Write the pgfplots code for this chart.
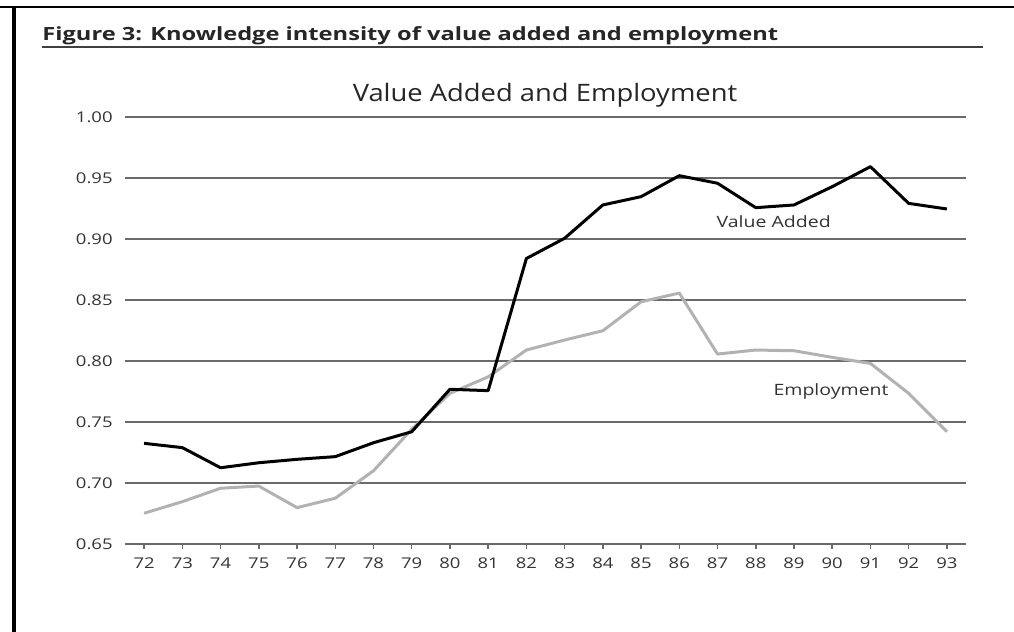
\documentclass[border=0pt]{standalone}
\usepackage{fontspec}
\setmainfont{Open Sans}[FakeStretch=1.25]
\newfontfamily\figtitlefont{Open Sans}[FakeStretch=1.30]
\newfontfamily\charttitlefont{Open Sans}[FakeStretch=1.14]
\usepackage{pgfplots}
\pgfplotsset{compat=1.18}
\definecolor{grid}{HTML}{6A6A6A}
\definecolor{emp}{HTML}{B2B2B2}
\begin{document}
\begin{tikzpicture}
\path[use as bounding box] (0,0) rectangle (507pt,316pt);
% frame
\draw[line width=1pt, black] (0,312.5pt) -- (507pt,312.5pt);
\draw[line width=2pt, black] (6.75pt,312.5pt) -- (6.75pt,0);
% figure title
\node[anchor=base west, inner sep=0, font=\figtitlefont\fontsize{9.1pt}{10pt}\selectfont\bfseries, text=black!85] at (21pt,295.75pt) {Figure 3: Knowledge intensity of value added and employment};
\draw[line width=1pt, black!75] (21pt,292.25pt) -- (491.5pt,292.25pt);
% chart title
\node[anchor=base, inner sep=0, font=\charttitlefont\fontsize{12pt}{13pt}\selectfont, text=black!85] at (272.5pt,265.2pt) {Value Added and Employment};
\begin{axis}[
  at={(62.5pt,44pt)}, anchor=south west,
  scale only axis, width=420.5pt, height=213.5pt,
  xmin=71.5, xmax=93.5, ymin=0.65, ymax=1.0,
  axis line style={draw=none},
  xtick={72,...,93},
  ytick={0.65,0.70,...,1.001},
  yticklabels={0.65,0.70,0.75,0.80,0.85,0.90,0.95,1.00},
  ymajorgrids,
  grid style={color=grid, line width=0.75pt},
  xtick align=outside,
  tick style={color=grid, line width=0.75pt},
  major tick length=2.5pt,
  ytick style={draw=none},
  xtick pos=bottom, ytick pos=left,
  /pgf/number format/assume math mode=true,
  ticklabel style={font=\fontsize{7.4pt}{8pt}\selectfont, text=black!80},
  yticklabel style={anchor=east, inner sep=0pt, xshift=-6pt},
  xticklabel style={anchor=north, inner sep=0pt, yshift=-4.25pt},
  xticklabels={72,73,74,75,76,77,78,79,80,81,82,83,84,85,86,87,88,89,90,91,92,93},
  clip=false,
]
\addplot[emp, line width=1.5pt, line join=round] coordinates {
(72,0.6752) (73,0.6847) (74,0.6957) (75,0.6975) (76,0.6798) (77,0.6875)
(78,0.7100) (79,0.7440) (80,0.7735) (81,0.7870) (82,0.8090) (83,0.8172)
(84,0.8248) (85,0.8485) (86,0.8557) (87,0.8057) (88,0.8090) (89,0.8084)
(90,0.8030) (91,0.7980) (92,0.7735) (93,0.7420)};
\addplot[black, line width=1.5pt, line join=round] coordinates {
(72,0.7325) (73,0.7290) (74,0.7125) (75,0.7166) (76,0.7194) (77,0.7216)
(78,0.7330) (79,0.7420) (80,0.7768) (81,0.7757) (82,0.8840) (83,0.9006)
(84,0.9279) (85,0.9347) (86,0.9519) (87,0.9457) (88,0.9257) (89,0.9279)
(90,0.9429) (91,0.9593) (92,0.9292) (93,0.9246)};
\node[font=\fontsize{7.8pt}{8pt}\selectfont, text=black!80] at (axis cs:88.47,0.914) {Value Added};
\node[font=\fontsize{7.8pt}{8pt}\selectfont, text=black!80] at (axis cs:89.97,0.775) {Employment};
\end{axis}
\end{tikzpicture}
\end{document}
